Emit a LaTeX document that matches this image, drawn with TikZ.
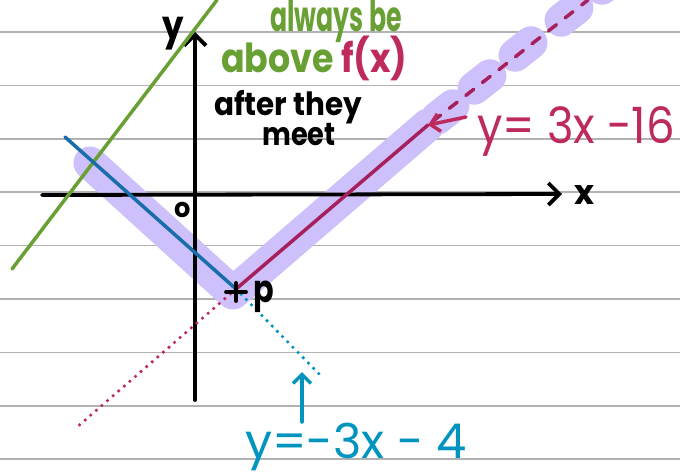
\documentclass[tikz,border=0pt]{standalone}
\usepackage{fontspec}
\setmainfont{Poppins}
\usetikzlibrary{arrows.meta,calc}
\definecolor{hgreen}{RGB}{104,160,52}
\definecolor{hmag}{RGB}{190,42,94}
\definecolor{lmag}{RGB}{165,32,92}
\definecolor{hteal}{RGB}{0,148,190}
\definecolor{lblue}{RGB}{24,110,170}
\definecolor{lav}{RGB}{206,192,250}
\definecolor{paperline}{RGB}{178,178,178}
\begin{document}
\begin{tikzpicture}[x=1pt,y=-1pt,
  ruled/.style={paperline, line width=1.6pt},
  axisline/.style={black, line width=3.8pt, line cap=round, -{Straight Barb[length=11pt,width=22pt]}},
  hl/.style={lav, line width=33pt, line cap=round, line join=round},
  thin/.style={line width=3.5pt, line cap=round},
  dotline/.style={line width=3.6pt, line cap=round, dash pattern=on 0pt off 7.4pt},
  hand/.style={inner sep=0pt, anchor=base west},
  ptr/.style={line width=3.5pt, line cap=round, -{Straight Barb[length=9pt,width=18pt]}}
]
\useasboundingbox (0,0) rectangle (680,474);
\fill[white] (0,0) rectangle (680,474);
% ruled paper
\foreach \yy in {32,85.4,138.8,192.2,245.6,299,352.4,405.8,459.2}
  \draw[ruled] (0,\yy) -- (680,\yy);

% key points
\coordinate (P) at (236,289);
\coordinate (A) at (428,125);
\coordinate (Bl) at (65,137);
\coordinate (Bd) at (323,378);
\coordinate (Md) at (76,428);
\coordinate (Mt) at (588,0);
\coordinate (G1) at (12,269);
\coordinate (G2) at (217,0);
\coordinate (H1) at (90,163);
\coordinate (HP) at (233,293);

% highlight
\draw[hl] (H1) -- (HP) -- (A);
\foreach \cx/\cy [count=\i] in {445/112, 482/82, 523/49, 569/14, 610/-18}{
  \coordinate (blob\i) at (\cx,\cy);
  \draw[hl] ($(blob\i)+(-7.9,6.2)$) -- ($(blob\i)+(7.9,-6.2)$);
}

% axes
\coordinate (xs) at (42,195);
\coordinate (xe) at (562,194);
\coordinate (ys) at (195,400);
\coordinate (ye) at (195,32);
\draw[axisline] (xs) -- (xe);
\draw[axisline] (ys) -- (ye);

% lines
\draw[thin, hgreen] (G1) -- (G2);
\draw[thin, lblue] (Bl) -- (P);
\draw[dotline, hteal] (P) -- (Bd);
\draw[thin, lmag] (P) -- (A);
\draw[thin, lmag, dash pattern=on 10pt off 11pt, dash phase=-6pt] (A) -- (Mt);
\draw[dotline, hmag] (P) -- (Md);

% point P
\coordinate (Pp) at (236,292);
\draw[black, line width=3.8pt, line cap=round] ($(Pp)+(-10,0)$) -- ($(Pp)+(10,0)$);
\draw[black, line width=3.8pt, line cap=round] ($(Pp)+(0,-9)$) -- ($(Pp)+(0,9)$);
\node[hand, font=\bfseries\fontsize{38}{38}\selectfont] (lp) at (253,302) {\scalebox{0.8}[1.0]{p}};

% axis labels
\node[hand, font=\bfseries\fontsize{40}{40}\selectfont] (ly) at (162,39) {\scalebox{0.85}[1.0]{y}};
\node[hand, font=\bfseries\fontsize{34}{34}\selectfont] (lx) at (574,204) {\scalebox{1.0}[1.0]{x}};
\node[hand, font=\bfseries\fontsize{27}{27}\selectfont] (lo) at (174,217) {\scalebox{0.95}[1.0]{o}};

% annotations
\node[hand, font=\bfseries\fontsize{42}{42}\selectfont, text=hgreen] (t1) at (270,31) {\scalebox{0.6}[1.0]{always be}};
\node[hand, font=\bfseries\fontsize{40}{40}\selectfont] (t2) at (221,72) {\scalebox{0.87}[1.0]{\textcolor{hgreen}{above} \textcolor{hmag}{f(x)}}};
\node[hand, font=\bfseries\fontsize{32}{32}\selectfont] (t3) at (214,115) {\scalebox{0.92}[1.0]{after they}};
\node[hand, font=\bfseries\fontsize{32}{32}\selectfont] (t4) at (262,145) {\scalebox{0.85}[1.0]{meet}};
\node[hand, font=\fontsize{50}{50}\selectfont, text=hmag] (eq1) at (477,143) {\scalebox{0.9}[1.0]{y= 3x -16}};
\node[hand, font=\fontsize{48}{48}\selectfont, text=hteal] (eq2) at (245,458) {\scalebox{1.0}[1.0]{y=-3x - 4}};

% pointers
\coordinate (a1s) at (466,117);
\draw[ptr, hmag] (a1s) -- (A);
\coordinate (a2s) at (302,422);
\coordinate (a2e) at (302,372);
\draw[ptr, hteal] (a2s) -- (a2e);
\end{tikzpicture}
\end{document}
